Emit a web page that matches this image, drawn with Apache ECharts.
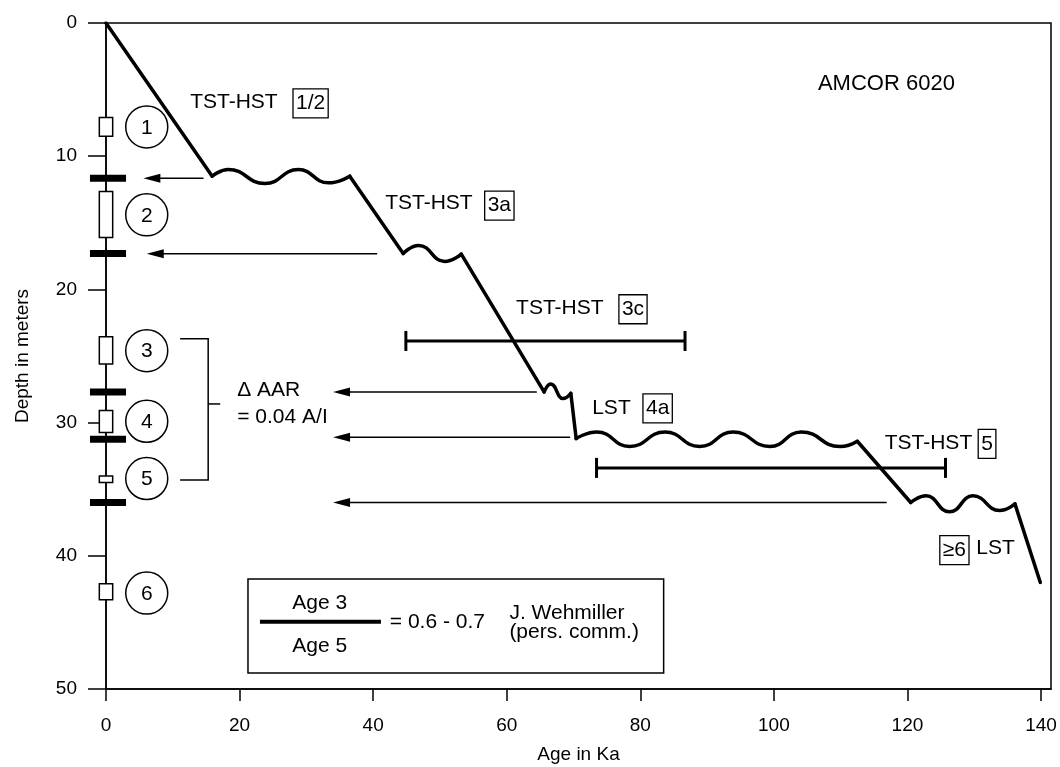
<!DOCTYPE html>
<html>
<head>
<meta charset="utf-8">
<script src="https://cdn.jsdelivr.net/npm/echarts@6/dist/echarts.min.js"></script>
<style>
  html, body { margin: 0; padding: 0; background: #fff; }
  #chart { width: 1060px; height: 767px; }
</style>
</head>
<body>
<div id="chart"></div>
<script>
// depth curve, age (Ka) vs depth (m): straight ramps and wavy stillstands
const ramp1 = [[0, 0], [15.9, 11.5]];
const wave1 = [[15.9, 11.5], [18.3, 11.0], [23.8, 12.05], [28.8, 11.0], [33.3, 12.0], [36.5, 11.5]];
const ramp2 = [[36.5, 11.5], [44.5, 17.3]];
const wave2 = [[44.5, 17.3], [46.8, 16.7], [50.7, 17.9], [53.2, 17.35]];
const ramp3 = [[53.2, 17.35], [65.6, 27.7]];
const wave3 = [[65.6, 27.7], [66.6, 27.1], [68.4, 28.2], [69.6, 27.8]];
const ramp4 = [[69.6, 27.8], [70.4, 31.2]];
const wave4 = [[70.4, 31.2], [73.5, 30.7], [78.4, 31.8], [83.7, 30.7], [88.9, 31.8], [93.9, 30.7],
               [99.4, 31.8], [104.1, 30.7], [109.9, 31.8], [112.5, 31.4]];
const ramp5 = [[112.5, 31.4], [120.5, 36.0]];
const wave5 = [[120.5, 36.0], [122.8, 35.5], [126.3, 36.7], [129.8, 35.5], [133.8, 36.6], [136.1, 36.1]];
const ramp6 = [[136.1, 36.1], [139.9, 42.0]];

// arrows: depth, from age, to age (tip)
const arrows = [[11.65, 14.6, 5.6], [17.33, 40.6, 6.1], [27.7, 64.5, 34.0], [31.1, 69.5, 34.0], [36.0, 116.9, 34.0]];
// age ranges: depth, from, to
const ranges = [[23.87, 44.9, 86.7], [33.4, 73.45, 125.7]];
// sample intervals on the core: top, bottom depth
const samples = [[7.1, 8.5], [12.65, 16.1], [23.55, 25.6], [29.1, 30.75], [34.0, 34.5], [42.1, 43.3]];
const sampleIds = ['1', '2', '3', '4', '5', '6'];
const sampleMid = [7.8, 14.4, 24.6, 29.9, 34.2, 42.8];
// sequence boundaries (black bars)
const bounds = [11.65, 17.3, 27.7, 31.25, 36.0];
// bracket 3..5: top, bottom, middle
const bracket = [23.7, 34.3, 28.6];

// labels: age, depth, text
const notes = [
  [12.6, 5.96, 'TST-HST'], [41.8, 13.5, 'TST-HST'], [61.4, 21.4, 'TST-HST'],
  [72.8, 28.9, 'LST'], [116.6, 31.55, 'TST-HST'], [130.3, 39.45, 'LST'],
  [19.65, 27.55, '\u0394 AAR'], [19.65, 29.56, '= 0.04 A/I']
];
const title = [106.6, 4.56, 'AMCOR 6020'];
const boxed = [
  [28.0, 6.04, '1/2'], [56.7, 13.71, '3a'], [76.8, 21.49, '3c'],
  [80.4, 28.93, '4a'], [130.6, 31.6, '5'], [124.85, 39.57, '\u22656']
];
// key box
const keyBox = [[21.26, 41.75], [83.5, 48.8]];
const keyLine = [[23.05, 44.96], [41.17, 44.96]];
const keyTexts = [
  [32.0, 43.58, 'Age 3', 'center'], [32.0, 46.78, 'Age 5', 'center'],
  [42.5, 44.96, '= 0.6 - 0.7', 'left'], [60.4, 44.33, 'J. Wehmiller', 'left'],
  [60.4, 45.7, '(pers. comm.)', 'left']
];

const xTicks = [0, 20, 40, 60, 80, 100, 120, 140];
const FONT = '"Liberation Sans", Arial, Helvetica, sans-serif';

function txt(p, text, align, size) {
  return {
    type: 'text', x: p[0], y: p[1],
    style: {
      text: text, fontSize: size || 21, fontFamily: FONT, fill: '#000',
      align: align || 'left', textAlign: align || 'left',
      verticalAlign: 'middle', textVerticalAlign: 'middle'
    }
  };
}

function overlay(arr, draw) {
  return {
    type: 'custom', coordinateSystem: 'cartesian2d', clip: false, silent: true, z: 5,
    data: arr.map(() => [0, 0]),
    renderItem: (params, api) => draw(arr[params.dataIndex], api)
  };
}

const lineStyle = { color: '#000', width: 3.5, cap: 'round', join: 'round' };
const curve = [];
[ramp1, ramp2, ramp3, ramp4, ramp5, ramp6].forEach((d) => {
  curve.push({ type: 'line', data: d, symbol: 'none', lineStyle: lineStyle, z: 4 });
});
[wave1, wave2, wave3, wave4, wave5].forEach((d) => {
  curve.push({ type: 'line', data: d, smooth: 0.5, smoothMonotone: 'x', symbol: 'none', lineStyle: lineStyle, z: 4 });
});

const chart = echarts.init(document.getElementById('chart'));
chart.setOption({
  animation: false,
  backgroundColor: '#fff',
  grid: {
    left: 106, top: 23, right: 9, bottom: 78, outerBoundsMode: 'none', containLabel: false,
    show: true, borderColor: '#000', borderWidth: 1.5
  },
  xAxis: {
    type: 'value', min: 0, max: 141.5,
    name: 'Age in Ka', nameLocation: 'middle', nameGap: 56,
    nameTextStyle: { fontSize: 19, fontFamily: FONT, color: '#000' },
    axisLine: { onZero: false, lineStyle: { color: '#000', width: 1.5 } },
    axisTick: { length: 12, lineStyle: { color: '#000', width: 1.5 }, customValues: xTicks },
    axisLabel: { customValues: xTicks, fontSize: 19, fontFamily: FONT, color: '#000', margin: 27 },
    splitLine: { show: false }
  },
  yAxis: {
    type: 'value', min: 0, max: 50, interval: 10, inverse: true,
    name: 'Depth in meters', nameLocation: 'middle', nameGap: 74, nameRotate: 90,
    nameTextStyle: { fontSize: 19, fontFamily: FONT, color: '#000' },
    axisLine: { onZero: false, lineStyle: { color: '#000', width: 1.5 } },
    axisTick: { length: 18, lineStyle: { color: '#000', width: 1.5 } },
    axisLabel: { fontSize: 19, fontFamily: FONT, color: '#000', margin: 29 },
    splitLine: { show: false }
  },
  series: curve.concat([
    // arrows
    overlay(arrows, (d, api) => {
      const a = api.coord([d[1], d[0]]);
      const b = api.coord([d[2], d[0]]);
      return {
        type: 'group', children: [
          { type: 'line', shape: { x1: a[0], y1: a[1], x2: b[0] + 12, y2: b[1] }, style: { stroke: '#000', lineWidth: 1.5 } },
          { type: 'polygon', shape: { points: [[b[0], b[1]], [b[0] + 17, b[1] - 4.5], [b[0] + 17, b[1] + 4.5]] }, style: { fill: '#000' } }
        ]
      };
    }),
    // age ranges
    overlay(ranges, (d, api) => {
      const a = api.coord([d[1], d[0]]);
      const b = api.coord([d[2], d[0]]);
      const s = { stroke: '#000', lineWidth: 3 };
      return {
        type: 'group', children: [
          { type: 'line', shape: { x1: a[0], y1: a[1], x2: b[0], y2: b[1] }, style: s },
          { type: 'line', shape: { x1: a[0], y1: a[1] - 10, x2: a[0], y2: a[1] + 10 }, style: s },
          { type: 'line', shape: { x1: b[0], y1: b[1] - 10, x2: b[0], y2: b[1] + 10 }, style: s }
        ]
      };
    }),
    // sample boxes
    overlay(samples, (d, api) => {
      const a = api.coord([-1, d[0]]);
      const b = api.coord([1, d[1]]);
      return { type: 'rect', shape: { x: a[0], y: a[1], width: b[0] - a[0], height: b[1] - a[1] },
               style: { fill: '#fff', stroke: '#000', lineWidth: 1.5 } };
    }),
    // sequence boundaries
    overlay(bounds, (d, api) => {
      const a = api.coord([-2.4, d]);
      const b = api.coord([3.0, d]);
      return { type: 'rect', shape: { x: a[0], y: a[1] - 3.5, width: b[0] - a[0], height: 7 }, style: { fill: '#000' } };
    }),
    // numbered circles
    overlay(sampleMid, (d, api) => {
      const i = sampleMid.indexOf(d);
      const c = api.coord([6.1, d]);
      return {
        type: 'group', children: [
          { type: 'circle', shape: { cx: c[0], cy: c[1], r: 21 }, style: { fill: 'none', stroke: '#000', lineWidth: 1.5 } },
          txt([c[0], c[1] + 1], sampleIds[i], 'center', 21)
        ]
      };
    }),
    // bracket
    overlay([bracket], (d, api) => {
      const t0 = api.coord([11.1, d[0]]), t1 = api.coord([15.3, d[0]]);
      const b0 = api.coord([11.1, d[1]]), b1 = api.coord([15.3, d[1]]);
      const m0 = api.coord([15.3, d[2]]), m1 = api.coord([17.1, d[2]]);
      return {
        type: 'group', children: [
          { type: 'polyline', shape: { points: [t0, t1, b1, b0] }, style: { fill: 'none', stroke: '#000', lineWidth: 1.5 } },
          { type: 'line', shape: { x1: m0[0], y1: m0[1], x2: m1[0], y2: m1[1] }, style: { stroke: '#000', lineWidth: 1.5 } }
        ]
      };
    }),
    // text labels
    overlay(notes, (d, api) => txt(api.coord([d[0], d[1]]), d[2], 'left', 21)),
    overlay([title], (d, api) => txt(api.coord([d[0], d[1]]), d[2], 'left', 22)),
    overlay(boxed, (d, api) => {
      const p = api.coord([d[0], d[1]]);
      const el = txt(p, d[2], 'left', 21);
      el.style.padding = [5, 3, 3, 3];
      el.style.borderColor = '#000';
      el.style.borderWidth = 1.3;
      return el;
    }),
    // key box
    overlay([keyBox], (d, api) => {
      const a = api.coord(d[0]), b = api.coord(d[1]);
      const l0 = api.coord(keyLine[0]), l1 = api.coord(keyLine[1]);
      return {
        type: 'group', children: [
          { type: 'rect', shape: { x: a[0], y: a[1], width: b[0] - a[0], height: b[1] - a[1] },
            style: { fill: '#fff', stroke: '#000', lineWidth: 1.5 } },
          { type: 'line', shape: { x1: l0[0], y1: l0[1], x2: l1[0], y2: l1[1] }, style: { stroke: '#000', lineWidth: 4 } }
        ]
      };
    }),
    Object.assign(overlay(keyTexts, (d, api) => txt(api.coord([d[0], d[1]]), d[2], d[3], 21)), { z: 6 })
  ])
});
</script>
</body>
</html>
